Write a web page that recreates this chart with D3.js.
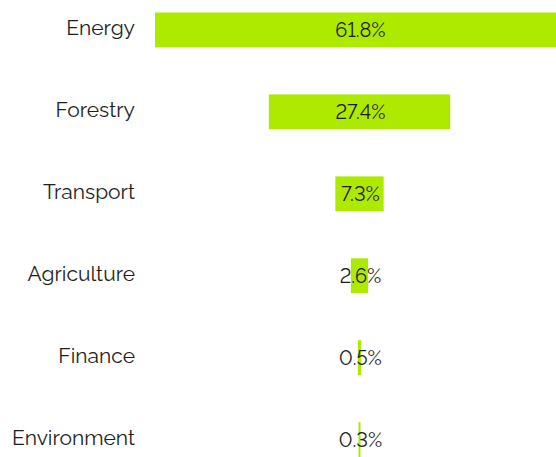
<!DOCTYPE html>
<html>
<head>
<meta charset="utf-8">
<script src="https://cdn.jsdelivr.net/npm/d3@7"></script>
<style>
  body { margin: 0; background: #fff; }
  text {
    font-family: Raleway, Lato, "Open Sans", sans-serif;
    font-weight: 400;
    font-variant-numeric: lining-nums;
    font-feature-settings: "lnum" 1;
    fill: #1e1e1e;
  }
</style>
</head>
<body>
<div id="chart"></div>
<script>
var categories = ['Energy', 'Forestry', 'Transport', 'Agriculture', 'Finance', 'Environment'];
var shares = [61.8, 27.4, 7.3, 2.6, 0.5, 0.3];
var valueLabels = ['61.8%', '27.4%', '7.3%', '2.6%', '0.5%', '0.3%'];

var width = 556, height = 457;
var centerX = 359.5;

var data = categories.map(function(c, i) {
    return { name: c, value: shares[i], label: valueLabels[i] };
});

var yScale = d3.scaleBand()
    .domain(categories)
    .range([12.5, 457])
    .paddingInner(0.575)
    .paddingOuter(0);

// bar widths, centred on one axis (funnel style)
var wScale = d3.scaleLinear().domain([0, d3.max(shares)]).range([0, 409]);

var svg = d3.select('#chart').append('svg')
    .attr('width', width)
    .attr('height', height);

svg.selectAll('rect.bar')
    .data(data)
    .enter().append('rect')
    .attr('class', 'bar')
    .attr('x', d => centerX - wScale(d.value) / 2)
    .attr('y', d => yScale(d.name))
    .attr('width', d => Math.max(1, wScale(d.value)))
    .attr('height', yScale.bandwidth())
    .style('fill', '#aeea00');

// category names
svg.selectAll('text.cat')
    .data(data)
    .enter().append('text')
    .attr('class', 'cat')
    .attr('x', 135)
    .attr('y', d => yScale(d.name) + yScale.bandwidth() / 2 - 2)
    .attr('dy', '0.35em')
    .attr('text-anchor', 'end')
    .style('font-size', '21px')
    .text(d => d.name);

// value labels
svg.selectAll('text.val')
    .data(data)
    .enter().append('text')
    .attr('class', 'val')
    .attr('x', centerX + 1)
    .attr('y', d => yScale(d.name) + yScale.bandwidth() / 2)
    .attr('dy', '0.35em')
    .attr('text-anchor', 'middle')
    .style('font-size', '20px')
    .text(d => d.label);
</script>
</body>
</html>
